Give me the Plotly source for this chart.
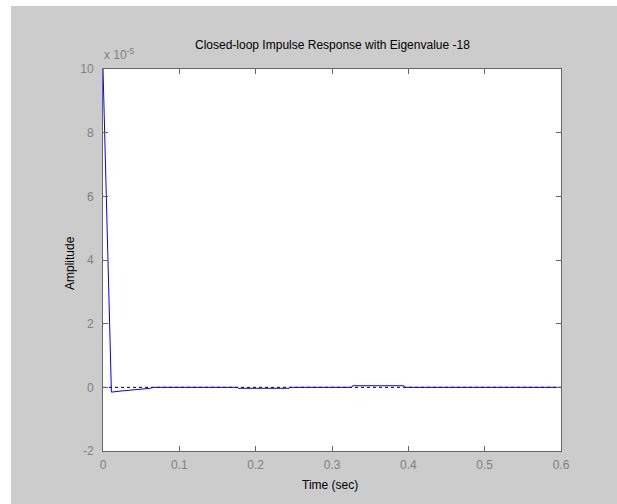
import plotly.graph_objects as go

# Data (amplitude in units of 1e-5)
time_s = [0.0, 0.011, 0.026, 0.045, 0.062, 0.066, 0.176, 0.177, 0.244, 0.245,
          0.326, 0.327, 0.394, 0.395, 0.6]
amplitude = [10.0, -0.15, -0.11, -0.07, -0.03, 0.0, 0.0, -0.03, -0.03, 0.0,
             0.0, 0.05, 0.05, 0.0, 0.0]
zero_x = [0.0, 0.6]
zero_y = [0.0, 0.0]
x_ticks = [0, 0.1, 0.2, 0.3, 0.4, 0.5, 0.6]
x_tick_labels = ["0", "0.1", "0.2", "0.3", "0.4", "0.5", "0.6"]
y_ticks = [-2, 0, 2, 4, 6, 8, 10]
y_tick_labels = ["-2", "0", "2", "4", "6", "8", "10"]

W, H = 617, 504
L, R, T, B = 103, 561, 69, 451
pw, ph = R - L, B - T

def px(x):
    return (x - L) / pw

def py(y):
    return (B - y) / ph

fig = go.Figure()
fig.add_trace(go.Scatter(x=zero_x, y=zero_y, mode="lines",
                         line=dict(color="black", width=1, dash="dot"),
                         hoverinfo="skip", showlegend=False))
fig.add_trace(go.Scatter(x=time_s, y=amplitude, mode="lines",
                         line=dict(color="#0000ff", width=1),
                         showlegend=False))

font = "Liberation Sans, Arial, sans-serif"
axis_common = dict(showgrid=False, zeroline=False, showline=True,
                   linecolor="#666666", linewidth=1, mirror="ticks",
                   ticks="inside", ticklen=5, tickcolor="#666666",
                   tickfont=dict(family=font, size=12, color="#808080"))

fig.update_layout(
    width=W, height=H,
    margin=dict(l=L, r=W - R, t=T, b=H - B, pad=0),
    paper_bgcolor="#cccccc", plot_bgcolor="white",
    xaxis=dict(range=[0, 0.6], tickvals=x_ticks, ticktext=x_tick_labels,
               ticklabelstandoff=3, **axis_common),
    yaxis=dict(range=[-2, 10], tickvals=y_ticks, ticktext=y_tick_labels,
               ticklabelstandoff=6, **axis_common),
    shapes=[
        dict(type="rect", xref="paper", yref="paper", x0=px(0), x1=px(11),
             y0=py(H), y1=py(0), fillcolor="white", line=dict(width=0), layer="below"),
        dict(type="rect", xref="paper", yref="paper", x0=px(0), x1=px(W),
             y0=py(6), y1=py(0), fillcolor="white", line=dict(width=0), layer="below"),
    ],
    annotations=[
        dict(text="Closed-loop Impulse Response with Eigenvalue -18", xref="paper", yref="paper",
             x=px(332), y=py(45), xanchor="center", yanchor="middle", showarrow=False,
             font=dict(family=font, size=12, color="black")),
        dict(text="Time (sec)", xref="paper", yref="paper",
             x=px(330), y=py(485), xanchor="center", yanchor="middle", showarrow=False,
             font=dict(family=font, size=12, color="black")),
        dict(text="Amplitude", xref="paper", yref="paper", textangle=-90,
             x=px(70), y=py(263), xanchor="center", yanchor="middle", showarrow=False,
             font=dict(family=font, size=12, color="black")),
        dict(text="x 10<sup>-5</sup>", xref="paper", yref="paper",
             x=px(102), y=py(54), xanchor="left", yanchor="middle", showarrow=False,
             font=dict(family=font, size=12, color="#808080")),
    ],
)

fig.write_html("out.html")
